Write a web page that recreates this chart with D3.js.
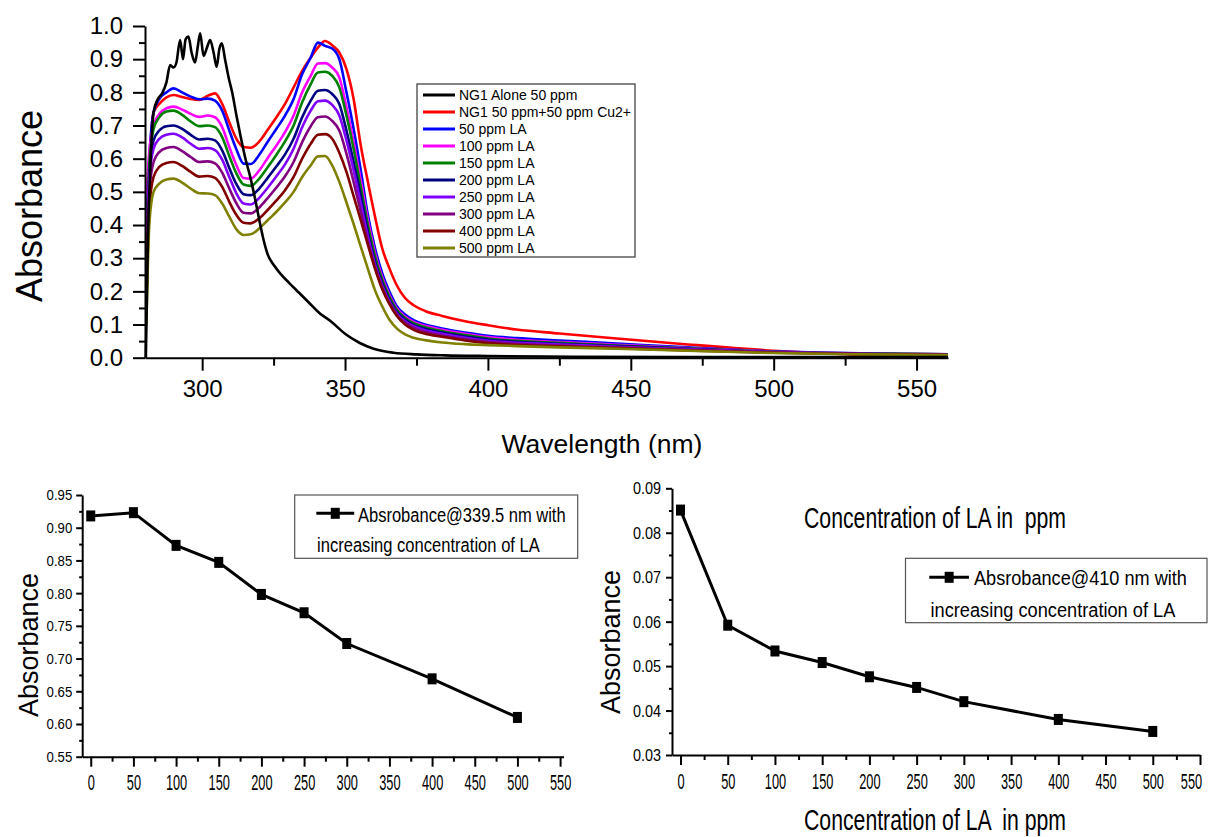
<!DOCTYPE html>
<html lang="en">
<head>
<meta charset="utf-8">
<title>NG1 absorbance with LA</title>
<script src="https://d3js.org/d3.v7.min.js"></script>
<style>
  body { margin: 0; background: #fff; }
  svg { display: block; }
</style>
</head>
<body>
<svg id="fig" width="1211" height="837"></svg>
<script>
// ---- data: UV-vis spectra (top panel) ----
const wavelengths = [280.5, 281.5, 283, 285, 287.5, 290, 293, 296, 299, 302, 304.5, 307, 309.5, 312, 314.5,
  317, 320, 323, 326, 329, 332, 335, 338, 340.5, 343, 345.5, 348, 350.5, 353, 355.5,
  358, 360.5, 363, 365.5, 368, 371, 374, 378, 384, 392, 400, 410, 425, 445, 470, 500, 530, 561];

const ng1Wavelengths = [280.3, 281, 282, 283, 284.5, 286, 287.5, 288.8, 290, 291, 292.3, 293.3, 294.2, 295.2,
  296.3, 297.5, 298.5, 299.3, 300.5, 301.7, 302.8, 304, 305.1, 306, 306.9, 308, 309.2, 310.5, 312, 313.5,
  315, 316.8, 318.5, 320, 321.5, 323, 325, 327.5, 330.5, 334, 337.5, 341, 345, 350, 355, 360, 367, 375,
  385, 400, 430, 470, 520, 561];
const absNG1 = [0.0, 0.35, 0.6, 0.74, 0.78, 0.797, 0.83, 0.882, 0.875, 0.89, 0.958, 0.9, 0.96, 0.968,
  0.92, 0.89, 0.94, 0.978, 0.91, 0.935, 0.958, 0.92, 0.877, 0.93, 0.948, 0.9, 0.847, 0.8, 0.73, 0.665,
  0.605, 0.546, 0.48, 0.415, 0.355, 0.31, 0.28, 0.252, 0.225, 0.195, 0.165, 0.135, 0.11, 0.072, 0.045, 0.027, 0.015, 0.01,
  0.007, 0.005, 0.003, 0.002, 0.002, 0.002];

const absCu = [0.24, 0.55, 0.74, 0.765, 0.785, 0.792, 0.786, 0.78, 0.777, 0.79, 0.797, 0.765, 0.71, 0.66, 0.635,
  0.633, 0.652, 0.688, 0.725, 0.765, 0.815, 0.865, 0.905, 0.935, 0.955, 0.942, 0.92, 0.87, 0.78, 0.64,
  0.53, 0.425, 0.33, 0.27, 0.22, 0.18, 0.158, 0.141, 0.126, 0.11, 0.098, 0.085, 0.073, 0.058, 0.04, 0.021, 0.009, 0.004];
const abs50 = [0.40, 0.60, 0.74, 0.78, 0.80, 0.812, 0.80, 0.787, 0.779, 0.781, 0.775, 0.745, 0.685, 0.628, 0.585,
  0.584, 0.612, 0.652, 0.69, 0.73, 0.78, 0.855, 0.905, 0.95, 0.94, 0.932, 0.90, 0.80, 0.69, 0.565,
  0.43, 0.33, 0.255, 0.20, 0.157, 0.13, 0.113, 0.10, 0.088, 0.076, 0.066, 0.059, 0.052, 0.043, 0.031, 0.019, 0.013, 0.010];
const abs100 = [0.49, 0.62, 0.70, 0.735, 0.752, 0.757, 0.748, 0.735, 0.726, 0.73, 0.725, 0.695, 0.635, 0.58, 0.542,
  0.54, 0.565, 0.603, 0.64, 0.68, 0.73, 0.80, 0.85, 0.887, 0.888, 0.875, 0.845, 0.755, 0.65, 0.535,
  0.415, 0.315, 0.243, 0.19, 0.15, 0.124, 0.108, 0.096, 0.084, 0.072, 0.062, 0.054, 0.047, 0.039, 0.029, 0.018, 0.013, 0.010];
const abs150 = [0.36, 0.58, 0.69, 0.725, 0.742, 0.745, 0.732, 0.712, 0.698, 0.70, 0.695, 0.665, 0.608, 0.555, 0.522,
  0.518, 0.54, 0.575, 0.612, 0.652, 0.70, 0.77, 0.825, 0.86, 0.862, 0.85, 0.815, 0.73, 0.63, 0.515,
  0.40, 0.305, 0.235, 0.184, 0.145, 0.12, 0.104, 0.092, 0.080, 0.068, 0.058, 0.051, 0.045, 0.037, 0.028, 0.018, 0.013, 0.010];
const abs200 = [0.33, 0.55, 0.655, 0.685, 0.698, 0.70, 0.69, 0.672, 0.658, 0.66, 0.655, 0.625, 0.572, 0.523, 0.493,
  0.49, 0.51, 0.543, 0.577, 0.613, 0.66, 0.725, 0.775, 0.805, 0.807, 0.795, 0.765, 0.685, 0.59, 0.49,
  0.38, 0.29, 0.225, 0.176, 0.139, 0.115, 0.099, 0.087, 0.076, 0.064, 0.055, 0.048, 0.042, 0.035, 0.027, 0.017, 0.012, 0.009];
const abs250 = [0.38, 0.54, 0.63, 0.66, 0.672, 0.675, 0.664, 0.645, 0.63, 0.632, 0.626, 0.597, 0.545, 0.495, 0.465,
  0.462, 0.482, 0.513, 0.547, 0.583, 0.63, 0.695, 0.745, 0.773, 0.775, 0.762, 0.73, 0.655, 0.565, 0.465,
  0.365, 0.28, 0.217, 0.17, 0.134, 0.11, 0.095, 0.083, 0.072, 0.060, 0.051, 0.045, 0.040, 0.033, 0.026, 0.017, 0.012, 0.009];
const abs300 = [0.30, 0.50, 0.59, 0.62, 0.632, 0.635, 0.623, 0.605, 0.59, 0.592, 0.586, 0.558, 0.51, 0.465, 0.437,
  0.435, 0.453, 0.482, 0.513, 0.547, 0.59, 0.65, 0.698, 0.725, 0.727, 0.714, 0.685, 0.615, 0.53, 0.44,
  0.35, 0.272, 0.211, 0.165, 0.13, 0.105, 0.09, 0.078, 0.067, 0.056, 0.048, 0.042, 0.037, 0.031, 0.024, 0.016, 0.011, 0.009];
const abs400 = [0.17, 0.45, 0.545, 0.575, 0.587, 0.59, 0.578, 0.56, 0.546, 0.548, 0.542, 0.515, 0.47, 0.43, 0.407,
  0.405, 0.42, 0.446, 0.474, 0.505, 0.545, 0.60, 0.645, 0.672, 0.674, 0.66, 0.618, 0.56, 0.487, 0.415,
  0.34, 0.268, 0.207, 0.162, 0.127, 0.10, 0.084, 0.072, 0.063, 0.052, 0.044, 0.038, 0.034, 0.029, 0.022, 0.015, 0.011, 0.008];
const abs500 = [0.10, 0.40, 0.50, 0.525, 0.537, 0.54, 0.528, 0.51, 0.496, 0.495, 0.49, 0.465, 0.425, 0.387, 0.37,
  0.372, 0.39, 0.415, 0.44, 0.468, 0.50, 0.545, 0.58, 0.607, 0.608, 0.58, 0.53, 0.468, 0.403, 0.335,
  0.268, 0.203, 0.155, 0.115, 0.089, 0.07, 0.06, 0.053, 0.046, 0.041, 0.038, 0.035, 0.031, 0.027, 0.021, 0.014, 0.010, 0.008];

const legendNames = ["NG1 Alone 50 ppm", "NG1 50 ppm+50 ppm Cu2+", "50 ppm LA", "100 ppm LA", "150 ppm LA",
  "200 ppm LA", "250 ppm LA", "300 ppm LA", "400 ppm LA", "500 ppm LA"];
const legendColors = ["#000000", "#ff0000", "#0000ff", "#ff00ff", "#008000",
  "#000080", "#8000ff", "#800080", "#800000", "#808000"];

const topXTicks = [300, 350, 400, 450, 500, 550];
const topYTicks = [0, 0.1, 0.2, 0.3, 0.4, 0.5, 0.6, 0.7, 0.8, 0.9, 1.0];

// ---- data: bottom panels ----
const laConc = [0, 50, 100, 150, 200, 250, 300, 400, 500];
const abs339 = [0.918, 0.923, 0.873, 0.847, 0.798, 0.770, 0.723, 0.669, 0.610];
const abs410 = [0.0851, 0.0592, 0.0534, 0.0508, 0.0476, 0.0452, 0.0420, 0.0380, 0.0353];
const concTicks = [0, 50, 100, 150, 200, 250, 300, 350, 400, 450, 500, 550];
const leftYTicks = [0.55, 0.60, 0.65, 0.70, 0.75, 0.80, 0.85, 0.90, 0.95];
const rightYTicks = [0.03, 0.04, 0.05, 0.06, 0.07, 0.08, 0.09];

const SANS = '"Liberation Sans", Arial, sans-serif';

const svg = d3.select("#fig");
svg.append("rect").attr("width", 1211).attr("height", 837).attr("fill", "#fff");

function styleAxis(g, size, width) {
  g.select(".domain").attr("stroke", "#000").attr("stroke-width", width);
  g.selectAll(".tick line").attr("stroke", "#000").attr("stroke-width", width);
  g.selectAll(".tick text").attr("fill", "#000")
    .style("font-size", size + "px").style("font-family", SANS);
}
function minorAxis(g, axis) {
  g.call(axis.tickFormat(() => ""));
  g.select(".domain").remove();
  g.selectAll(".tick line").attr("stroke", "#000").attr("stroke-width", 2);
}
// condensed text squeezed to a measured width
function fitText(parent, str, x, y, w, size) {
  const t = parent.append("text")
    .style("font-family", SANS).style("font-size", size + "px").style("white-space", "pre")
    .text(str);
  const nat = t.node().getComputedTextLength();
  t.attr("transform", `translate(${x},${y}) scale(${(w / nat).toFixed(3)},1)`);
  return t;
}

// ================= top panel =================
const xTop = d3.scaleLinear().domain([280, 561]).range([145, 948]);
const yTop = d3.scaleLinear().domain([0, 1]).range([357.7, 26]);
const topG = svg.append("g");

const line = d3.line()
  .x(d => xTop(d[0]))
  .y(d => yTop(d[1]))
  .curve(d3.curveMonotoneX);

const coloured = [absCu, abs50, abs100, abs150, abs200, abs250, abs300, abs400, abs500];
coloured.forEach((vals, k) => {
  topG.append("path")
    .datum(vals.map((v, i) => [wavelengths[i], v]))
    .attr("d", line)
    .attr("fill", "none")
    .attr("stroke", legendColors[k + 1])
    .attr("stroke-width", 2.6)
    .attr("stroke-linejoin", "round");
});
topG.append("path")
  .datum(absNG1.map((v, i) => [ng1Wavelengths[i], v]))
  .attr("d", line)
  .attr("fill", "none")
  .attr("stroke", "#000")
  .attr("stroke-width", 2.6)
  .attr("stroke-linejoin", "round");

// axes
topG.append("g").attr("transform", "translate(0,357.7)")
  .call(g => minorAxis(g, d3.axisBottom(xTop).tickValues([325, 375, 425, 475, 525]).tickSize(8)));
topG.append("g").attr("transform", "translate(145,0)")
  .call(g => minorAxis(g, d3.axisLeft(yTop).tickValues(d3.range(0.05, 1, 0.1)).tickSize(6)));

const xAxisTop = topG.append("g").attr("transform", "translate(0,357.7)")
  .call(d3.axisBottom(xTop).tickValues(topXTicks).tickSize(13).tickSizeOuter(0).tickPadding(9));
styleAxis(xAxisTop, 24, 2);
const yAxisTop = topG.append("g").attr("transform", "translate(145,0)")
  .call(d3.axisLeft(yTop).tickValues(topYTicks).tickSize(12).tickSizeOuter(0).tickPadding(10)
    .tickFormat(d3.format(".1f")));
styleAxis(yAxisTop, 24, 2);

topG.append("text")
  .attr("transform", "translate(42,206) rotate(-90)")
  .attr("text-anchor", "middle")
  .style("font-family", SANS).style("font-size", "36px")
  .text("Absorbance");
topG.append("text")
  .attr("x", 602).attr("y", 453)
  .attr("text-anchor", "middle")
  .style("font-family", SANS).style("font-size", "26.5px")
  .text("Wavelength (nm)");

// legend
const leg = topG.append("g");
leg.append("rect")
  .attr("x", 417).attr("y", 84).attr("width", 218).attr("height", 173)
  .attr("fill", "#fff").attr("stroke", "#444").attr("stroke-width", 1.3);
legendNames.forEach((name, i) => {
  const yy = 95 + i * 17;
  leg.append("line")
    .attr("x1", 423).attr("x2", 455).attr("y1", yy).attr("y2", yy)
    .attr("stroke", legendColors[i]).attr("stroke-width", 3);
  leg.append("text")
    .attr("x", 459).attr("y", yy + 5)
    .style("font-family", SANS).style("font-size", "14px")
    .text(name);
});

// ================= bottom panels =================
const XSQ = 0.58, YSQ = 0.85;   // horizontal squeeze of the condensed tick labels

function concPanel(opts) {
  const g = svg.append("g");
  const x = d3.scaleLinear().domain(opts.xDomain).range(opts.xRange);
  const y = d3.scaleLinear().domain(opts.yDomain).range(opts.yRange);
  const y0 = opts.yRange[0], x0 = opts.xRange[0];

  g.append("g").attr("transform", `translate(0,${y0})`)
    .call(gg => minorAxis(gg, d3.axisBottom(x).tickValues(d3.range(25, 550, 50)).tickSize(5)));
  g.append("g").attr("transform", `translate(${x0},0)`)
    .call(gg => minorAxis(gg, d3.axisLeft(y).tickValues(opts.yMinor).tickSize(3)));

  const xa = g.append("g").attr("transform", `translate(0,${y0})`)
    .call(d3.axisBottom(x).tickValues(concTicks).tickSize(10).tickSizeOuter(0).tickPadding(8));
  styleAxis(xa, 22, 2);
  xa.selectAll(".tick text").attr("transform", `scale(${XSQ},1)`);

  const ya = g.append("g").attr("transform", `translate(${x0},0)`)
    .call(d3.axisLeft(y).tickValues(opts.yTicks).tickSize(6).tickSizeOuter(0)
      .tickFormat(d3.format(".2f")));
  styleAxis(ya, opts.ySize, 2);
  ya.selectAll(".tick text")
    .attr("x", -(6 + opts.yPad) / YSQ)
    .attr("transform", `scale(${YSQ},1)`);

  const pts = laConc.map((c, i) => [c, opts.values[i]]);
  g.append("path")
    .datum(pts)
    .attr("d", d3.line().x(d => x(d[0])).y(d => y(d[1])))
    .attr("fill", "none").attr("stroke", "#000").attr("stroke-width", 3);
  g.selectAll("rect.pt")
    .data(pts)
    .join("rect").attr("class", "pt")
    .attr("x", d => x(d[0]) - 4.5).attr("y", d => y(d[1]) - 5.5)
    .attr("width", 9).attr("height", 11).attr("fill", "#000");

  g.append("text")
    .attr("transform", `translate(${opts.yLabelX},${opts.yLabelY}) rotate(-90)`)
    .attr("text-anchor", "middle")
    .style("font-family", SANS).style("font-size", "27px")
    .text("Absorbance");

  // legend
  const L = opts.legend;
  g.append("rect")
    .attr("x", L.box[0]).attr("y", L.box[1]).attr("width", L.box[2] - L.box[0]).attr("height", L.box[3] - L.box[1])
    .attr("fill", "#fff").attr("stroke", "#555").attr("stroke-width", 1.2);
  g.append("line")
    .attr("x1", L.line[0]).attr("x2", L.line[1]).attr("y1", L.line[2]).attr("y2", L.line[2])
    .attr("stroke", "#000").attr("stroke-width", 3);
  g.append("rect")
    .attr("x", (L.line[0] + L.line[1]) / 2 - 4.5).attr("y", L.line[2] - 5.5)
    .attr("width", 9).attr("height", 11).attr("fill", "#000");
  L.texts.forEach(t => fitText(g, t.s, t.x, t.y, t.w, 21));
  return { g, xa };
}

concPanel({
  values: abs339,
  xDomain: [-10, 554], xRange: [82.2, 563.5],
  yDomain: [0.55, 0.95], yRange: [756.7, 495],
  yTicks: leftYTicks, yMinor: d3.range(0.575, 0.95, 0.05), yPad: 4, ySize: 15.5,
  yLabelX: 38, yLabelY: 645,
  legend: {
    box: [294.7, 495, 577.7, 558.3],
    line: [316.3, 354.2, 513.3],
    texts: [
      { s: "Absrobance@339.5 nm with", x: 358, y: 521.7, w: 208 },
      { s: "increasing concentration of LA", x: 317, y: 551.7, w: 223 }
    ]
  }
});

const right = concPanel({
  values: abs410,
  xDomain: [-9, 550], xRange: [672, 1200],
  yDomain: [0.03, 0.09], yRange: [755, 488.3],
  yTicks: rightYTicks, yMinor: d3.range(0.035, 0.09, 0.01), yPad: 5, ySize: 17,
  yLabelX: 620, yLabelY: 642,
  legend: {
    box: [905.5, 558.3, 1207, 622.7],
    line: [929.3, 969, 577.3],
    texts: [
      { s: "Absrobance@410 nm with", x: 974, y: 585, w: 213 },
      { s: "increasing concentration of LA", x: 930.5, y: 616.7, w: 245 }
    ]
  }
});
// last label sits at the page edge: nudge it inwards
right.xa.selectAll(".tick text").filter(d => d === 550).attr("x", -9 / XSQ);

fitText(right.g, "Concentration of LA in  ppm", 804, 528.3, 262, 30);
fitText(right.g, "Concentration of LA  in ppm", 804, 830, 262, 30);
</script>
</body>
</html>
